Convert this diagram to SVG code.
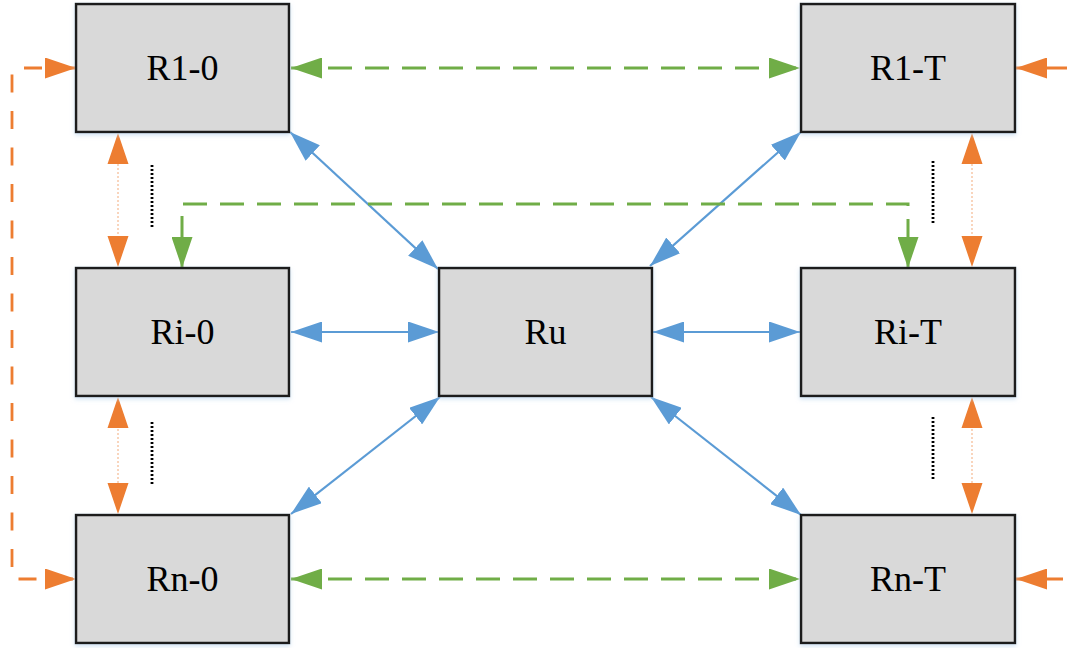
<svg xmlns="http://www.w3.org/2000/svg" width="1076" height="648" viewBox="0 0 1076 648">
  <style>
    .box { fill: #D9D9D9; stroke: #1a1a1a; stroke-width: 2.5; filter: url(#glow); }
    .lbl { font-family: "Liberation Serif", "Times New Roman", serif; font-size: 36px; fill: #000; text-anchor: middle; }
    .blue { stroke: #5B9BD5; stroke-width: 2.2; fill: none; marker-start: url(#ab); marker-end: url(#ab); }
    .green { stroke: #70AD47; stroke-width: 3; fill: none; stroke-dasharray: 24 13; marker-start: url(#ag); marker-end: url(#ag); }
    .orange { stroke: #ED7D31; stroke-width: 2.8; fill: none; }
    .odash { stroke-dasharray: 18 18.5; stroke-dashoffset: 2.5; }
    .ofaint { stroke: #F8CBAD; stroke-width: 1.6; fill: none; stroke-dasharray: 2 2; }
    .dots { stroke: #000; stroke-width: 2.8; fill: none; stroke-dasharray: 2 2; }
  </style>
  <defs>
    <filter id="glow" x="-10%" y="-10%" width="120%" height="125%">
      <feDropShadow dx="0" dy="2" stdDeviation="2" flood-color="#BDD7EE" flood-opacity="0.7"/>
    </filter>
    <marker id="ab" markerUnits="userSpaceOnUse" markerWidth="31" markerHeight="21" viewBox="0 0 31 21" refX="31" refY="10.5" orient="auto-start-reverse">
      <path d="M0,0 L31,10.5 L0,21 z" fill="#5B9BD5"/>
    </marker>
    <marker id="ag" markerUnits="userSpaceOnUse" markerWidth="31" markerHeight="21" viewBox="0 0 31 21" refX="31" refY="10.5" orient="auto-start-reverse">
      <path d="M0,0 L31,10.5 L0,21 z" fill="#70AD47"/>
    </marker>
    <marker id="ao" markerUnits="userSpaceOnUse" markerWidth="31" markerHeight="21" viewBox="0 0 31 21" refX="31" refY="10.5" orient="auto-start-reverse">
      <path d="M0,0 L31,10.5 L0,21 z" fill="#ED7D31"/>
    </marker>
  </defs>
  <rect width="1076" height="648" fill="#FFFFFF"/>

  <g id="connectors">
    <!-- blue links to Ru -->
    <line class="blue" x1="290" y1="132" x2="438" y2="269"/>
    <line class="blue" x1="801" y1="132" x2="650" y2="266"/>
    <line class="blue" x1="291" y1="332" x2="439" y2="332"/>
    <line class="blue" x1="653" y1="332" x2="800" y2="332"/>
    <line class="blue" x1="440" y1="397" x2="291" y2="514"/>
    <line class="blue" x1="651" y1="397" x2="801" y2="515"/>
    <!-- green dashed -->
    <line class="green" x1="291" y1="68" x2="800" y2="68"/>
    <line class="green" x1="291" y1="579" x2="800" y2="579"/>
    <path class="green" style="stroke-dashoffset: 9" d="M182,268 V204 H908 V268"/>
    <!-- orange left loop -->
    <path class="orange odash" d="M76,68 H12 V579 H76" marker-start="url(#ao)" marker-end="url(#ao)"/>
    <!-- orange right inputs -->
    <line class="orange" x1="1067" y1="68" x2="1016" y2="68" marker-end="url(#ao)"/>
    <line class="orange" x1="1063" y1="579" x2="1016" y2="579" marker-end="url(#ao)"/>
    <!-- orange vertical double arrows -->
    <line class="ofaint" x1="118" y1="160" x2="118" y2="240"/>
    <path d="M118,133 L128.5,164 L107.5,164 z M118,267 L128.5,236 L107.5,236 z" fill="#ED7D31"/>
    <line class="ofaint" x1="118" y1="425" x2="118" y2="487"/>
    <path d="M118,397 L128.5,428 L107.5,428 z M118,514 L128.5,483 L107.5,483 z" fill="#ED7D31"/>
    <line class="ofaint" x1="972" y1="160" x2="972" y2="240"/>
    <path d="M972,133 L982.5,164 L961.5,164 z M972,267 L982.5,236 L961.5,236 z" fill="#ED7D31"/>
    <line class="ofaint" x1="972" y1="425" x2="972" y2="487"/>
    <path d="M972,397 L982.5,428 L961.5,428 z M972,514 L982.5,483 L961.5,483 z" fill="#ED7D31"/>
    <!-- black dotted ellipsis -->
    <line class="dots" x1="152" y1="165" x2="152" y2="229"/>
    <line class="dots" x1="152" y1="422" x2="152" y2="485"/>
    <line class="dots" x1="933" y1="161" x2="933" y2="224"/>
    <line class="dots" x1="933" y1="417" x2="933" y2="481"/>
  </g>

  <g id="node-R1-0">
    <rect class="box" x="76" y="4" width="213" height="128"/>
    <text class="lbl" x="182.5" y="80">R1-0</text>
  </g>
  <g id="node-Ri-0">
    <rect class="box" x="76" y="268" width="213" height="128"/>
    <text class="lbl" x="182.5" y="344">Ri-0</text>
  </g>
  <g id="node-Rn-0">
    <rect class="box" x="76" y="515" width="213" height="128"/>
    <text class="lbl" x="182.5" y="591">Rn-0</text>
  </g>
  <g id="node-Ru">
    <rect class="box" x="439" y="268" width="213" height="128"/>
    <text class="lbl" x="545.5" y="344">Ru</text>
  </g>
  <g id="node-R1-T">
    <rect class="box" x="801" y="4" width="214" height="128"/>
    <text class="lbl" x="908" y="80">R1-T</text>
  </g>
  <g id="node-Ri-T">
    <rect class="box" x="801" y="268" width="214" height="128"/>
    <text class="lbl" x="908" y="344">Ri-T</text>
  </g>
  <g id="node-Rn-T">
    <rect class="box" x="801" y="515" width="214" height="128"/>
    <text class="lbl" x="908" y="591">Rn-T</text>
  </g>
</svg>
